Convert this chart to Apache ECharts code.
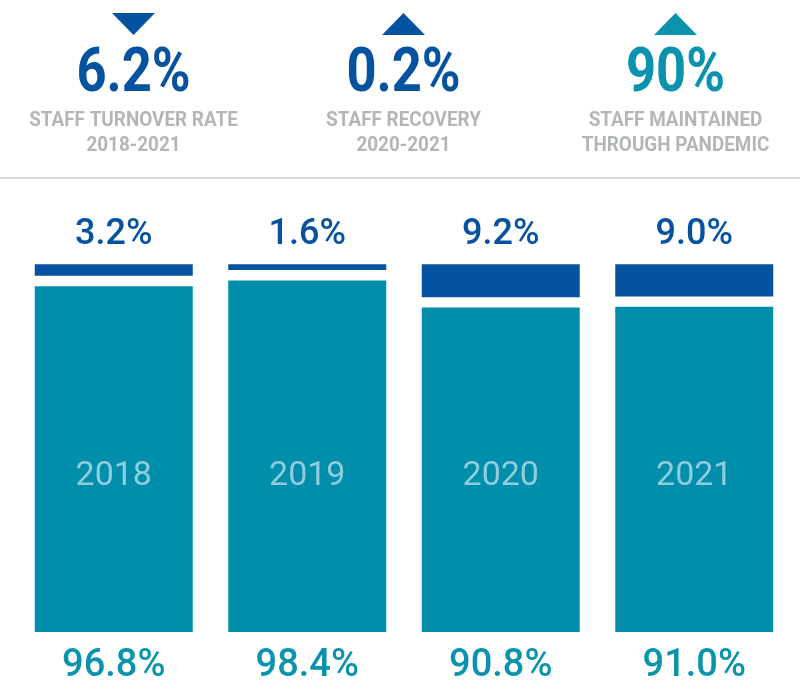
<!DOCTYPE html>
<html>
<head>
<meta charset="utf-8">
<script src="https://cdn.jsdelivr.net/npm/echarts@6/dist/echarts.min.js"></script>
<style>
html,body{margin:0;padding:0;background:#ffffff;}
#chart{width:800px;height:685px;}
</style>
</head>
<body>
<div id="chart"></div>
<script>
// ---- data ----
var years = ['2018', '2019', '2020', '2021'];
var retained = [96.8, 98.4, 90.8, 91.0];
var turnover = [3.2, 1.6, 9.2, 9.0];

var kpiValues = ['6.2%', '0.2%', '90%'];
var kpiLine1 = ['STAFF TURNOVER RATE', 'STAFF RECOVERY', 'STAFF MAINTAINED'];
var kpiLine2 = ['2018-2021', '2020-2021', 'THROUGH PANDEMIC'];
var kpiArrows = ['down', 'up', 'up'];

// ---- style / layout ----
var DARK = '#0552A0';
var TEAL = '#018EAA';
var TEAL_TEXT = '#0A93AD';
var GREY = '#B2B6B5';
var YEAR_COL = '#8ECCDE';
var GAP = 2.9; // visual spacer between the two stacked segments
var kpiCenters = [133.5, 403.5, 675.5];
var kpiColors = [DARK, DARK, TEAL_TEXT];
var FONT = 'Roboto, "Open Sans", sans-serif';

var graphics = [];
kpiValues.forEach(function (v, i) {
  var cx = kpiCenters[i];
  var pts = kpiArrows[i] === 'down'
    ? [[cx - 21.5, 13], [cx + 21.5, 13], [cx, 35]]
    : [[cx - 21.5, 35], [cx + 21.5, 35], [cx, 13]];
  graphics.push({ type: 'polygon', shape: { points: pts }, style: { fill: kpiColors[i] }, silent: true });
  graphics.push({ type: 'text', x: cx, y: 76, scaleX: 0.86,
    style: { text: v, fill: kpiColors[i], font: 'bold 61px ' + FONT, align: 'center', verticalAlign: 'middle' } });
  graphics.push({ type: 'text', x: cx, y: 121, scaleX: 0.9,
    style: { text: kpiLine1[i], fill: GREY, font: 'bold 21px ' + FONT, align: 'center', verticalAlign: 'middle' } });
  graphics.push({ type: 'text', x: cx, y: 146, scaleX: 0.9,
    style: { text: kpiLine2[i], fill: GREY, font: 'bold 21px ' + FONT, align: 'center', verticalAlign: 'middle' } });
});
graphics.push({ type: 'rect', shape: { x: 0, y: 177, width: 800, height: 2 }, style: { fill: '#D4D7D7' }, silent: true });

var chart = echarts.init(document.getElementById('chart'), null, { renderer: 'canvas' });
chart.setOption({
  animation: false,
  backgroundColor: '#ffffff',
  graphic: graphics,
  grid: { left: 17, right: 9, top: 264, bottom: 48, containLabel: false },
  xAxis: {
    type: 'category',
    data: years,
    axisLine: { show: false },
    axisTick: { show: false },
    axisLabel: {
      margin: 15,
      fontSize: 38,
      fontWeight: 500,
      fontFamily: FONT,
      color: TEAL_TEXT,
      formatter: function (v, i) { return retained[i].toFixed(1) + '%'; }
    }
  },
  yAxis: {
    type: 'value', min: 0, max: 103,
    show: false, splitLine: { show: false }
  },
  series: [
    {
      type: 'bar', stack: 'total', barWidth: 158,
      data: retained,
      itemStyle: { color: TEAL },
      label: {
        show: true, position: 'insideBottom', distance: 139,
        formatter: function (p) { return years[p.dataIndex]; },
        fontSize: 34, fontFamily: FONT, color: YEAR_COL
      }
    },
    {
      type: 'bar', stack: 'total', barWidth: 158,
      data: years.map(function () { return GAP; }),
      itemStyle: { color: 'rgba(0,0,0,0)' },
      silent: true
    },
    {
      type: 'bar', stack: 'total', barWidth: 158,
      data: turnover,
      itemStyle: { color: DARK },
      label: {
        show: true, position: 'top', distance: 11,
        formatter: function (p) { return turnover[p.dataIndex].toFixed(1) + '%'; },
        fontSize: 36, fontWeight: 500, fontFamily: FONT, color: DARK
      }
    }
  ]
});
</script>
</body>
</html>
